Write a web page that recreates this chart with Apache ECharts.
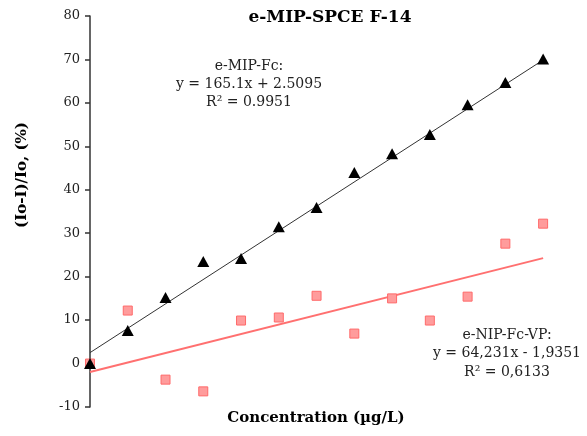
<!DOCTYPE html>
<html><head><meta charset="utf-8">
<script src="https://cdn.jsdelivr.net/npm/echarts@6/dist/echarts.min.js"></script>
<style>html,body{margin:0;padding:0;background:#fff}#c{width:587px;height:436px}</style>
</head><body><div id="c"></div>
<script>
const concentrations = [0, 0.034, 0.068, 0.102, 0.136, 0.170, 0.204, 0.238, 0.272, 0.306, 0.340, 0.374, 0.408];
const mipValues = [0, 7.6, 15.2, 23.5, 24.2, 31.5, 35.9, 44.0, 48.3, 52.7, 59.6, 64.7, 70.1];
const nipValues = [0, 12.2, -3.7, -6.4, 9.9, 10.6, 15.6, 6.9, 15.0, 9.9, 15.4, 27.6, 32.2];
const mipFit = {slope: 165.1, intercept: 2.5095};
const nipFit = {slope: 64.231, intercept: -1.9351};
const yTicks = [-10, 0, 10, 20, 30, 40, 50, 60, 70, 80];

const F = '"DejaVu Serif", "Liberation Serif", serif';
const xEnd = concentrations[concentrations.length - 1];
const fitLine = f => [[0, f.slope * 0 + f.intercept], [xEnd, f.slope * xEnd + f.intercept]];

const chart = echarts.init(document.getElementById('c'));
chart.setOption({
  animation: false,
  backgroundColor: '#fff',
  title: {
    text: 'e-MIP-SPCE F-14', left: 325, top: 4, textAlign: 'center',
    textStyle: {fontFamily: F, fontSize: 17, fontWeight: 'bold', color: '#000'}
  },
  grid: {left: 90, top: 16, width: 472, height: 391},
  xAxis: {
    type: 'value', min: 0, max: 0.425,
    axisLine: {show: false}, axisTick: {show: false}, axisLabel: {show: false}, splitLine: {show: false}
  },
  yAxis: {
    type: 'value', min: yTicks[0], max: yTicks[yTicks.length - 1], interval: 10,
    axisLine: {show: true, lineStyle: {color: '#333', width: 1.5}},
    axisTick: {show: true, length: 5, lineStyle: {color: '#333', width: 1.5}},
    axisLabel: {fontFamily: F, fontSize: 13, color: '#222', margin: 10},
    splitLine: {show: false}
  },
  series: [
    {
      type: 'line', data: fitLine(nipFit), symbol: 'none', silent: true,
      lineStyle: {color: '#ff7070', width: 2}, z: 1
    },
    {
      type: 'line', data: fitLine(mipFit), symbol: 'none', silent: true,
      lineStyle: {color: '#333', width: 1}, z: 1
    },
    {
      type: 'scatter', data: concentrations.map((x, i) => [x, nipValues[i]]),
      symbol: 'rect', symbolSize: 9,
      itemStyle: {color: '#ff9c9c', borderColor: '#ff6a6a', borderWidth: 1, opacity: 1}, z: 2
    },
    {
      type: 'scatter', data: concentrations.map((x, i) => [x, mipValues[i]]),
      symbol: 'triangle', symbolSize: [12, 11],
      itemStyle: {color: '#000', opacity: 1}, z: 3
    }
  ],
  graphic: [
    {
      type: 'text', x: 316, y: 418,
      style: {text: 'Concentration (µg/L)', align: 'center', verticalAlign: 'middle',
        font: 'bold 15px ' + F, fill: '#000'}
    },
    {
      type: 'text', x: 22, y: 175, rotation: Math.PI / 2,
      style: {text: '(Io-I)/Io, (%)', align: 'center', verticalAlign: 'middle',
        font: 'bold 15px ' + F, fill: '#000'}
    },
    {
      type: 'text', x: 249, y: 57,
      style: {text: 'e-MIP-Fc:\ny = 165.1x + 2.5095\nR² = 0.9951', align: 'center', verticalAlign: 'top',
        font: '14px ' + F, fill: '#222', lineHeight: 18}
    },
    {
      type: 'text', x: 507, y: 326,
      style: {text: 'e-NIP-Fc-VP:\ny = 64,231x - 1,9351\nR² = 0,6133', align: 'center', verticalAlign: 'top',
        font: '14px ' + F, fill: '#222', lineHeight: 18.5}
    }
  ]
});
</script>
</body></html>
